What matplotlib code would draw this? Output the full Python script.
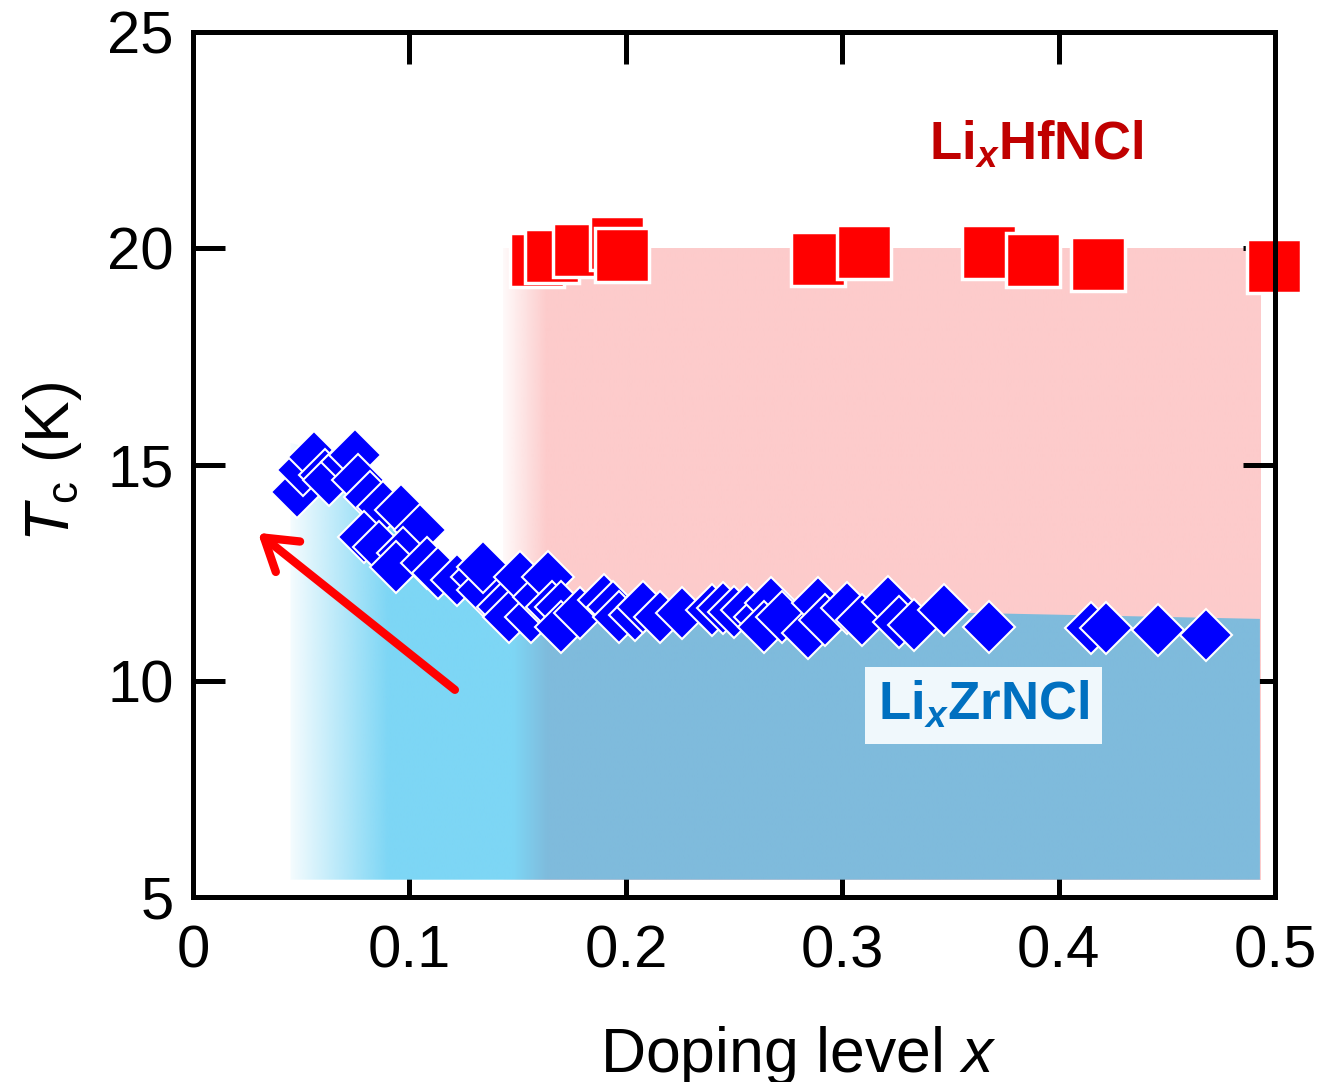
import numpy as np
import matplotlib
matplotlib.use('Agg')
import matplotlib.pyplot as plt
from matplotlib.patches import Polygon
from matplotlib.colors import to_rgba

plt.rcParams['font.family'] = ['Liberation Sans', 'DejaVu Sans']
plt.rcParams['mathtext.fontset'] = 'custom'
plt.rcParams['mathtext.rm'] = 'Liberation Sans'
plt.rcParams['mathtext.it'] = 'Liberation Sans:italic'
plt.rcParams['mathtext.bf'] = 'Liberation Sans:bold'
plt.rcParams['mathtext.sf'] = 'Liberation Sans:italic:bold'

# Li_xZrNCl  (blue diamonds)
zr_x = [0.048, 0.051, 0.056, 0.061, 0.063, 0.071, 0.075, 0.076, 0.082, 0.088,
        0.096, 0.105, 0.079, 0.086, 0.097, 0.094, 0.108, 0.113, 0.122, 0.131,
        0.134, 0.134, 0.143, 0.146, 0.151, 0.156, 0.160, 0.164, 0.166, 0.170,
        0.170, 0.179, 0.190, 0.194, 0.197, 0.204, 0.208, 0.216, 0.226, 0.240,
        0.245, 0.250, 0.256, 0.262, 0.267, 0.264, 0.272, 0.284, 0.289, 0.292,
        0.302, 0.309, 0.321, 0.326, 0.333, 0.347, 0.368, 0.415, 0.422, 0.446,
        0.468]
zr_tc = [14.36, 14.87, 15.17, 14.76, 14.64, 15.06, 15.22, 14.64, 14.25, 14.02,
         13.95, 13.49, 13.32, 13.09, 12.95, 12.63, 12.72, 12.49, 12.33, 12.40,
         12.10, 12.63, 11.71, 11.47, 12.40, 11.47, 11.94, 12.40, 11.71, 11.71,
         11.24, 11.57, 11.87, 11.71, 11.47, 11.52, 11.71, 11.47, 11.57, 11.64,
         11.68, 11.59, 11.64, 11.47, 11.80, 11.24, 11.47, 11.10, 11.80, 11.40,
         11.68, 11.40, 11.82, 11.36, 11.29, 11.64, 11.24, 11.22, 11.22, 11.17,
         11.06]

# Li_xHfNCl  (red squares)
hf_x = [0.159, 0.166, 0.179, 0.196, 0.198, 0.289, 0.310, 0.368, 0.388, 0.418, 0.4995]
hf_tc = [19.73, 19.82, 19.96, 20.12, 19.84, 19.75, 19.91, 19.91, 19.73, 19.64, 19.59]

# shaded phase regions
zr_band_x = [0.045, 0.060, 0.075, 0.090, 0.105, 0.120, 0.135, 0.150, 0.200,
             0.300, 0.340, 0.358, 0.493]
zr_band_top = [15.5, 15.3, 15.0, 14.2, 13.3, 12.5, 11.9, 11.4, 11.45,
               11.6, 11.65, 11.57, 11.43]
hf_band_x = [0.143, 0.493]
hf_band_top = 20.0
band_bottom = 5.4

pink = '#fdcbcb'
light_blue = '#7dd6f5'
steel_blue = '#7fbbdc'


def ramp(x0, x1, stops, n=800):
    xs = np.linspace(x0, x1, n)
    sx = [s[0] for s in stops]
    cols = np.array([s[1] for s in stops])
    img = np.zeros((1, n, 4))
    for k in range(4):
        img[0, :, k] = np.interp(xs, sx, cols[:, k])
    return img


fig = plt.figure(figsize=(13.25, 10.82), dpi=100)
ax = fig.add_axes([0.1457, 0.1710, 0.8166, 0.7994])

# pink region (HfNCl)
pk = ramp(hf_band_x[0], hf_band_x[1],
          [(0.143, to_rgba(pink, 0.1)), (0.163, to_rgba(pink, 1.0)),
           (0.493, to_rgba(pink, 1.0))])
ax.imshow(pk, extent=[hf_band_x[0], hf_band_x[1], band_bottom, hf_band_top],
          aspect='auto', origin='lower', interpolation='bilinear', zorder=1)

# blue region (ZrNCl)
bl = ramp(zr_band_x[0], zr_band_x[-1],
          [(0.045, to_rgba(light_blue, 0.08)), (0.09, to_rgba(light_blue, 1.0)),
           (0.148, to_rgba(light_blue, 1.0)), (0.164, to_rgba(steel_blue, 1.0)),
           (0.493, to_rgba(steel_blue, 1.0))])
im = ax.imshow(bl, extent=[zr_band_x[0], zr_band_x[-1], band_bottom, max(zr_band_top)],
               aspect='auto', origin='lower', interpolation='bilinear', zorder=2)
verts = list(zip(zr_band_x, zr_band_top)) + [(zr_band_x[-1], band_bottom), (zr_band_x[0], band_bottom)]
clip = Polygon(verts, closed=True, transform=ax.transData)
im.set_clip_path(clip)

ax.plot(hf_x, hf_tc, ls='none', marker='s', ms=39, mfc='#ff0000', mec='white',
        mew=2.5, zorder=3, clip_on=False)
ax.plot(zr_x, zr_tc, ls='none', marker='D', ms=26, mfc='#0000ff', mec='white',
        mew=1.5, zorder=4)

ax.annotate('', xy=(0.030, 13.42), xytext=(0.121, 9.79),
            arrowprops=dict(arrowstyle='->,head_length=1.1,head_width=0.7',
                            color='#ff0000', lw=6, mutation_scale=20,
                            shrinkA=0, shrinkB=0), zorder=5)

ax.text(0.3895, 22.04, r'Li$_{\mathsf{x}}$HfNCl', color='#c00000', fontsize=38,
        fontweight='bold', ha='center', va='baseline', zorder=6)
ax.text(0.3653, 9.09, r'Li$_{\mathsf{x}}$ZrNCl', color='#0070c0', fontsize=38,
        fontweight='bold', ha='center', va='baseline', zorder=6,
        bbox=dict(boxstyle='square,pad=0.25', facecolor='#f0f8fc', edgecolor='none'))

ax.set_xlim(0, 0.5)
ax.set_ylim(5, 25)
ax.set_xticks([0, 0.1, 0.2, 0.3, 0.4, 0.5])
ax.set_xticklabels(['0', '0.1', '0.2', '0.3', '0.4', '0.5'])
ax.set_yticks([5, 10, 15, 20, 25])
ax.tick_params(direction='in', length=23, width=3.6, labelsize=43,
               top=True, right=True)
ax.tick_params(axis='x', pad=20)
ax.tick_params(axis='y', pad=14)
for s in ax.spines.values():
    s.set_linewidth(3.6)
    s.set_zorder(7)

ax.set_xlabel('Doping level $x$', fontsize=45)
ax.xaxis.set_label_coords(0.559, -0.2023)
ax.xaxis.label.set_va('baseline')
ax.set_ylabel(r'$T_{\mathrm{c}}$ (K)', fontsize=45)
ax.yaxis.set_label_coords(-0.1007, 0.503)

fig.savefig('out.png', dpi=100)
